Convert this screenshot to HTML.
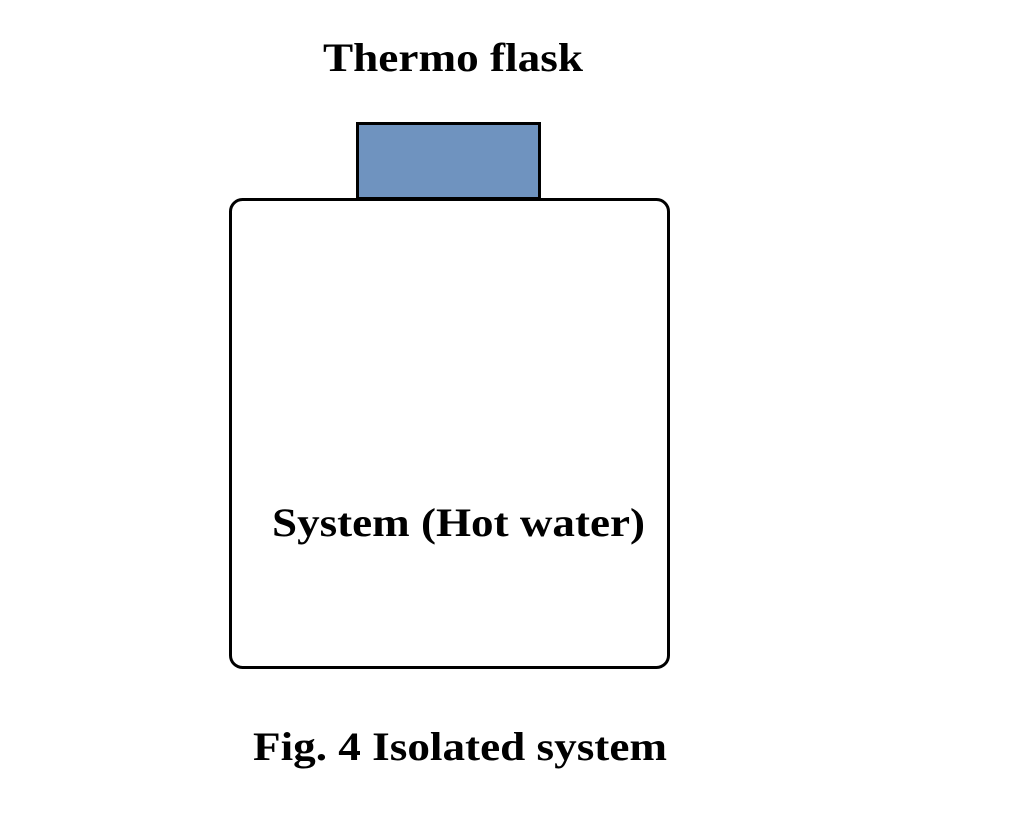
<!DOCTYPE html>
<html><head><meta charset="utf-8"><style>
html,body{margin:0;padding:0;background:#fff;}
svg{display:block;}
text{font-family:"Liberation Serif",serif;font-weight:bold;font-size:40px;fill:#000;}
</style></head><body>
<svg width="1024" height="816" viewBox="0 0 1024 816" xmlns="http://www.w3.org/2000/svg">
<rect x="0" y="0" width="1024" height="816" fill="#fff"/>
<rect x="357.5" y="123.5" width="182" height="75" fill="#6f93bf" stroke="#000" stroke-width="3"/>
<rect x="230.5" y="199.5" width="438" height="468" rx="12" ry="12" fill="#fff" stroke="#000" stroke-width="3"/>
<text x="323" y="71" textLength="260" lengthAdjust="spacingAndGlyphs">Thermo flask</text>
<text x="272" y="536" textLength="373" lengthAdjust="spacingAndGlyphs">System (Hot water)</text>
<text x="253" y="760" textLength="414" lengthAdjust="spacingAndGlyphs">Fig. 4 Isolated system</text>
</svg>
</body></html>
